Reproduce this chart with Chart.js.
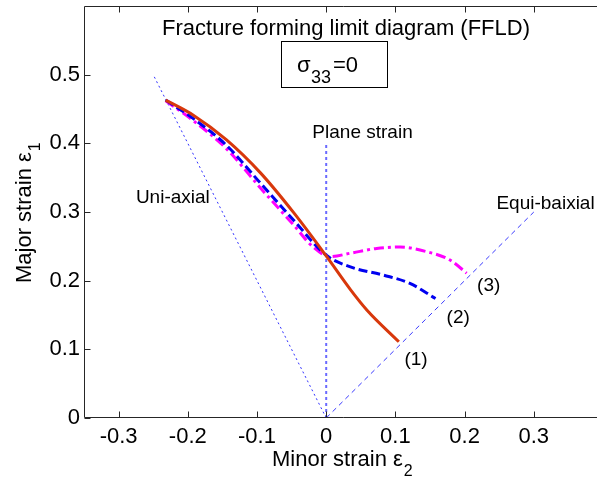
<!DOCTYPE html>
<html>
<head>
<meta charset="utf-8">
<script src="https://cdn.jsdelivr.net/npm/chart.js@4.4.1/dist/chart.umd.min.js"></script>
<style>
html,body{margin:0;padding:0;background:#fff;overflow:hidden;}
canvas{display:block;}
</style>
</head>
<body>
<canvas id="myChart" width="603" height="478"></canvas>
<script>
// (1) solid red
const curve1X = [-0.232, -0.192, -0.144, -0.095, -0.047, 0, 0.035, 0.059, 0.105];
const curve1Y = [0.463, 0.441, 0.405, 0.357, 0.299, 0.236, 0.187, 0.157, 0.111];
// (2) blue dashed
const curve2X = [-0.232, -0.192, -0.144, -0.095, -0.047, 0, 0.035, 0.083, 0.121, 0.158];
const curve2Y = [0.463, 0.436, 0.397, 0.342, 0.288, 0.237, 0.220, 0.208, 0.196, 0.174];
// (3) magenta dash-dot
const curve3X = [-0.232, -0.192, -0.144, -0.095, -0.047, -0.020, 0.006, 0.035, 0.073, 0.107, 0.146, 0.179, 0.203];
const curve3Y = [0.462, 0.433, 0.392, 0.335, 0.281, 0.250, 0.235, 0.240, 0.247, 0.249, 0.242, 0.230, 0.211];

// strain paths
const uniX = [0, -0.25];
const uniY = [0, 0.5];
const planeX = [0, 0];
const planeY = [0, 0.4];
const equiX = [0, 0.3];
const equiY = [0, 0.3];

const xTicks = [-0.3, -0.2, -0.1, 0, 0.1, 0.2, 0.3];
const xTickLabels = ['-0.3', '-0.2', '-0.1', '0', '0.1', '0.2', '0.3'];
const yTicks = [0, 0.1, 0.2, 0.3, 0.4, 0.5];
const yTickLabels = ['0', '0.1', '0.2', '0.3', '0.4', '0.5'];

const pts = (xs, ys) => xs.map((x, i) => ({x: x, y: ys[i]}));

const FONT = '"Liberation Sans", Arial, sans-serif';
const F22 = '22px ' + FONT;
const F16 = '16px ' + FONT;

const frame = {
    id: 'frame',
    afterDraw(chart) {
        const c = chart.ctx;
        const a = chart.chartArea;
        const xs = chart.scales.x, ys = chart.scales.y;
        const L = Math.round(a.left) + 0.5, B = Math.round(a.bottom) - 0.5, T = Math.round(a.top) + 0.5;
        c.save();
        c.strokeStyle = '#262626';
        c.lineWidth = 1;
        c.beginPath();
        c.moveTo(a.right, T); c.lineTo(L, T); c.lineTo(L, B); c.lineTo(a.right, B);
        xs.ticks.forEach(t => {
            const px = Math.round(xs.getPixelForValue(t.value)) + 0.5;
            c.moveTo(px, B); c.lineTo(px, B - 6);
            c.moveTo(px, T); c.lineTo(px, T + 6);
        });
        ys.ticks.forEach(t => {
            const py = Math.round(ys.getPixelForValue(t.value)) + 0.5;
            c.moveTo(L, py); c.lineTo(L + 6, py);
        });
        c.stroke();

        c.fillStyle = '#000';
        c.textBaseline = 'alphabetic';
        c.textAlign = 'center';
        c.font = F22;
        c.fillText('Fracture forming limit diagram (FFLD)', 346, 35);

        // sigma box
        c.strokeStyle = '#000';
        c.strokeRect(281.5, 41.5, 106, 46);
        c.textAlign = 'left';
        c.font = F22;
        c.fillText('σ', 297, 72);
        c.font = '18px ' + FONT;
        c.fillText('33', 311, 83);
        c.font = F22;
        c.fillText('=0', 333, 72);

        // annotations placed in data units
        const notes = [
            ['Uni-axial', -0.275, 0.313],
            ['Plane strain', -0.020, 0.408],
            ['Equi-baixial', 0.246, 0.304],
            ['(1)', 0.113, 0.077],
            ['(2)', 0.174, 0.138],
            ['(3)', 0.218, 0.185]
        ];
        c.font = '19px ' + FONT;
        notes.forEach(n => {
            c.fillText(n[0], xs.getPixelForValue(n[1]), ys.getPixelForValue(n[2]));
        });

        // x axis title
        c.font = F22;
        c.fillText('Minor strain', 272, 466);
        let w = c.measureText('Minor strain ').width;
        c.fillText('ε', 272 + w, 466);
        let we = c.measureText('ε').width;
        c.font = F16;
        c.fillText('2', 272 + w + we + 1, 476);

        // y axis title
        c.translate(31, 283);
        c.rotate(-Math.PI / 2);
        c.font = F22;
        c.fillText('Major strain', 0, 0);
        w = c.measureText('Major strain ').width;
        c.fillText('ε', w, 0);
        we = c.measureText('ε').width;
        c.font = F16;
        c.fillText('1', w + we + 1, 9);
        c.restore();
    }
};

const ctx = document.getElementById('myChart').getContext('2d');
const myChart = new Chart(ctx, {
    type: 'scatter',
    data: {
        datasets: [
            {
                data: pts(curve1X, curve1Y),
                showLine: true,
                borderColor: '#d8380c',
                borderWidth: 3,
                cubicInterpolationMode: 'monotone'
            },
            {
                data: pts(curve2X, curve2Y),
                showLine: true,
                borderColor: '#0000f0',
                borderWidth: 3,
                borderDash: [9, 4],
                cubicInterpolationMode: 'monotone'
            },
            {
                data: pts(curve3X, curve3Y),
                showLine: true,
                borderColor: '#ff00ff',
                borderWidth: 3,
                borderDash: [10, 4, 3, 4],
                cubicInterpolationMode: 'monotone'
            },
            {
                data: pts(uniX, uniY),
                showLine: true,
                borderColor: '#3030ff',
                borderWidth: 1,
                borderDash: [2, 3]
            },
            {
                data: pts(planeX, planeY),
                showLine: true,
                borderColor: '#6a6aff',
                borderWidth: 2,
                borderDash: [3, 3]
            },
            {
                data: pts(equiX, equiY),
                showLine: true,
                borderColor: '#3838ff',
                borderWidth: 1,
                borderDash: [5, 4]
            }
        ]
    },
    options: {
        responsive: false,
        animation: false,
        layout: {padding: {top: 6, right: 0, left: 0, bottom: 0}},
        elements: {point: {radius: 0, hoverRadius: 0}},
        plugins: {legend: {display: false}, tooltip: {enabled: false}},
        scales: {
            x: {
                type: 'linear',
                min: -0.35,
                max: 0.4,
                grid: {display: false, drawTicks: false},
                border: {display: false},
                afterBuildTicks: s => { s.ticks = xTicks.map(v => ({value: v})); },
                afterFit: s => { s.height = 60; s.paddingLeft = 0; s.paddingRight = 0; },
                ticks: {
                    color: '#000',
                    padding: 6,
                    maxRotation: 0,
                    font: {family: FONT, size: 22},
                    callback: (v, i) => xTickLabels[i]
                }
            },
            y: {
                type: 'linear',
                min: 0,
                max: 0.6,
                grid: {display: false, drawTicks: false},
                border: {display: false},
                afterBuildTicks: s => { s.ticks = yTicks.map(v => ({value: v})); },
                afterFit: s => { s.width = 84; s.paddingTop = 0; s.paddingBottom = 0; },
                ticks: {
                    color: '#000',
                    padding: 4,
                    font: {family: FONT, size: 22},
                    callback: (v, i) => yTickLabels[i]
                }
            }
        }
    },
    plugins: [frame]
});
</script>
</body>
</html>
